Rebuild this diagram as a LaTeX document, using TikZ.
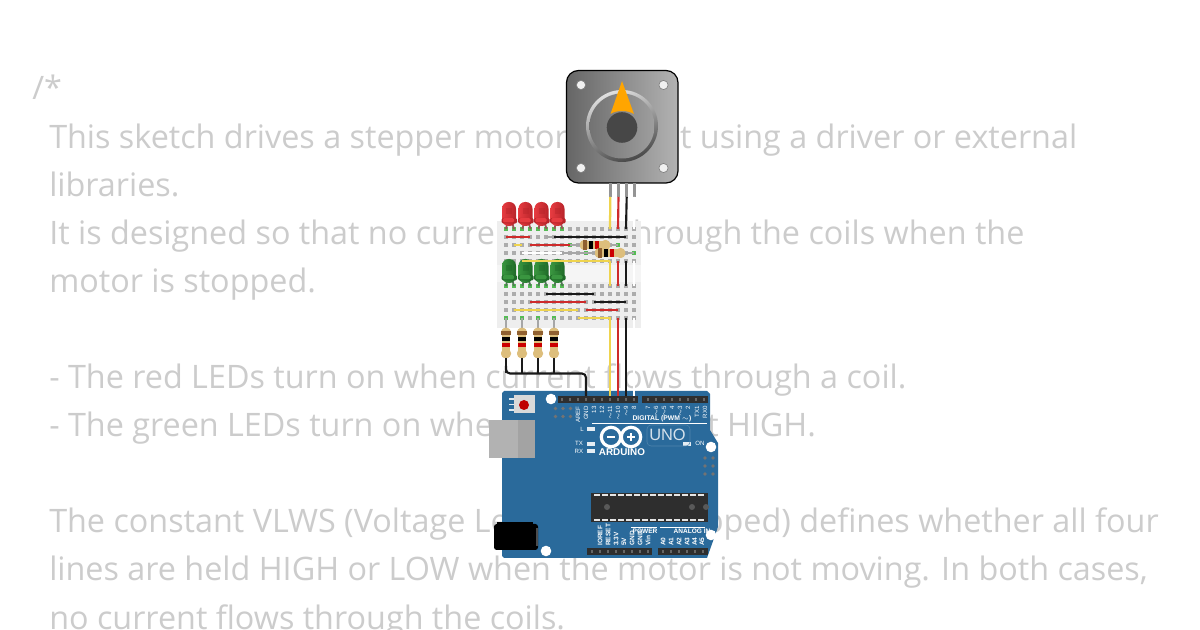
\documentclass[tikz,border=0pt]{standalone}
\usepackage{fontspec}
\setmainfont{Open Sans}
\newfontfamily\lab{Liberation Sans}
\definecolor{bodytext}{HTML}{CCCCCC}
\definecolor{boardblue}{HTML}{2A6A9B}
\definecolor{wyellow}{HTML}{EFD44E}
\definecolor{wred}{HTML}{CE2B2B}
\definecolor{wblack}{HTML}{1A1A1A}
\definecolor{bread}{HTML}{EEEEEE}
\definecolor{tan}{HTML}{DDBE7C}
\definecolor{hdr}{HTML}{2E2E2E}
\definecolor{holegreen}{HTML}{55BB55}
\definecolor{motororange}{HTML}{FFA500}
\definecolor{ledred}{HTML}{E63B40}
\definecolor{ledredd}{HTML}{B8242A}
\definecolor{ledgreen}{HTML}{3A9640}
\definecolor{ledgreend}{HTML}{1F6A28}
\tikzset{
  x=.75pt,y=-.75pt,
  bodyline/.style={anchor=base west,inner sep=0pt,text=bodytext,font=\fontsize{24.25}{24.25}\selectfont},
  wirey/.style={draw=wyellow,line width=1.7pt},
  wirer/.style={draw=wred,line width=1.6pt},
  wirek/.style={draw=wblack,line width=1.6pt,rounded corners=3pt},
  wirew/.style={draw=white,line width=1.3pt},
  lead/.style={draw=gray!70,line width=1pt},
  ty/.style={inner sep=0pt,text=white,font=\lab\fontsize{4.6}{4.6}\selectfont},
  tyb/.style={inner sep=0pt,text=white,font=\lab\bfseries\fontsize{4.9}{4.9}\selectfont},
}
\newcommand{\myled}[3]{% x, y-top, name stem of the colours
  \begin{scope}[shift={(#1,#2)}]
    \draw[gray!55!#3d,line width=1.3pt] (-1.5,20) -- (-3,27) (3,20) -- (5,27);
    \shade[left color=#3,right color=#3d,rounded corners=4.9pt]
      (-7,0) rectangle (7,24);
    \fill[#3d,rounded corners=1pt] (-7.3,16) rectangle (8,21.5);
    \fill[#3,rounded corners=1pt] (-6.2,16) rectangle (5,20.5);
    \fill[#3d,opacity=.45] (-3,6) rectangle (3,12);
  \end{scope}}
\newcommand{\myresbody}{%
  \fill[tan,rounded corners=2pt] (0,-3.8) rectangle (30,3.8);
  \fill[tan,rounded corners=3pt] (0,-5) rectangle (9,5);
  \fill[tan,rounded corners=3pt] (21,-5) rectangle (30,5);
  \fill[brown!75!black] (3,-4.8) rectangle (7,4.8);
  \fill[black] (9,-3.8) rectangle (13,3.8);
  \fill[red!80!black] (15,-3.8) rectangle (19,3.8);}
\newcommand{\myresH}[2]{\begin{scope}[shift={(#1,#2)}]\myresbody\end{scope}}
\newcommand{\myresV}[2]{\begin{scope}[shift={(#1,#2)},x={(0pt,-.75pt)},y={(.75pt,0pt)}]\myresbody\end{scope}}
\begin{document}
\begin{tikzpicture}
\useasboundingbox (0,0) rectangle (1200,630);
\fill[white] (0,0) rectangle (1200,630);
% background text
\node[bodyline] (t0) at (32,100) {/*};
\node[bodyline] (t1) at (49,149) {This sketch drives a stepper motor without using a driver or external};
\node[bodyline] (t2) at (49,197) {libraries.};
\node[bodyline] (t3) at (49,245) {It is designed so that no current flows through the coils when the};
\node[bodyline] (t4) at (49,293) {motor is stopped.};
\node[bodyline] (t5) at (49,389) {- The red LEDs turn on when current flows through a coil.};
\node[bodyline] (t6) at (49,437) {- The green LEDs turn on whe};
\node[bodyline] (t6b) at (707,437) {t HIGH.};
\node[bodyline] (t7) at (49,533) {The constant VLWS (Voltage Level When Stopped) defines whether all four};
\node[bodyline] (t8) at (49,581) {lines are held HIGH or LOW when the motor is not moving. In both cases,};
\node[bodyline] (t9) at (49,629) {no current flows through the coils.};

% breadboard
\fill[bread] (497,221) rectangle (641,328);
\fill[white!96!black] (497,265) rectangle (641,282);
\foreach \r in {229,237,245,253,261,286,294,302,310,318}
  \foreach \c in {506,514,...,634}{
    \coordinate (h\r-\c) at (\c,\r);
    \fill[gray!65] (\c-1.7,\r-1.7) rectangle (\c+1.7,\r+1.7);
  }
\foreach \c in {506,514,...,562}{
  \fill[holegreen] (\c-2.2,229-2.2) rectangle (\c+2.2,229+2.2);
  \fill[holegreen] (\c-2.2,286-2.2) rectangle (\c+2.2,286+2.2);
}
\foreach \c in {506,522,538,554}
  \fill[holegreen] (\c-2.2,318-2.2) rectangle (\c+2.2,318+2.2);
\foreach \c/\r in {618/245,634/253,586/253,570/245}
  \fill[holegreen] (\c-2.2,\r-2.2) rectangle (\c+2.2,\r+2.2);

% Arduino board
\fill[boardblue] (504,391) -- (707,391) -- (710,394) -- (710,430) -- (718,443) -- (718,527) -- (707,558)
  -- (504,558) -- (502,556) -- (502,393) -- cycle;

% motor
\shade[left color=black!60,right color=black!30,draw=black,line width=.9pt,rounded corners=9pt] (566.5,70.5) rectangle (678,183);
\foreach \a/\b in {581/85,663.5/85,581/168,663.5/168}
  \draw[fill=black!6,draw=black!50,line width=.5pt] (\a,\b) circle (4.6);
\shade[left color=black!12,right color=black!72,shading angle=20] (622,126) circle (36);
\shade[left color=black!55,right color=black!38] (622,126) circle (32.5);
\fill[motororange] (622,81) -- (634,114) .. controls (628,110) and (616,110) .. (610.5,114) -- cycle;
\fill[black!72] (622,127.5) circle (15.3);
\foreach \i/\a in {1/610.3,2/618.5,3/626.7,4/634.3}{
  \fill[black!42] (\a-1.6,183) rectangle (\a+1.6,197);
  \coordinate (mp\i) at (\a,197);
}

% board pin coordinates
\coordinate (d11) at (610,401); \coordinate (d10) at (618,401);
\coordinate (d9) at (626,401); \coordinate (d8) at (634,401);
\coordinate (dgnd) at (586,401);

% wires from the motor
\draw[wirew] (mp4) -- (h229-634) (h261-634) -- (h286-634) (h318-634) -- (d8);
\draw[wirew] (h253-522) -- (h253-562);
\draw[wirey] (mp1) -- (610,229);
\draw[wirer] (mp2) -- (618,229);
\draw[wirek] (mp3) -- (626,229);
\draw[wirey] (610,261) -- (610,286);
\draw[wirer] (618,261) -- (618,286);
\draw[wirek] (626,261) -- (626,286);
\draw[wirey] (h318-578) -- (610,318) -- (d11);
\draw[wirer] (618,318) -- (d10);
\draw[wirek] (626,318) -- (d9);
% jumpers on the breadboard
\draw[wirer] (h237-506) -- (h237-530);
\draw[lead] (h237-546) -- (h237-554);
\draw[wirek] (h237-554) -- (h237-626);
\draw[wirey] (h245-514) -- (h245-522);
\draw[wirer] (h245-530) -- (h245-570);
\draw[lead] (h245-570) -- (h245-618);
\draw[lead] (h253-562) -- (h253-634);
\draw[wirek] (h294-546) -- (h294-594);
\draw[wirer] (h302-530) -- (h302-586);
\draw[wirek] (h302-594) -- (h302-626);
\draw[wirey] (h310-514) -- (h310-578);
\draw[wirer] (h310-586) -- (h310-618);
\myresH{580}{245}
\myresH{595}{253}

% LEDs
\foreach \a in {509,525.5,541.5,557.5}{
  \myled{\a}{202}{ledred}
}
\foreach \a in {509,525.5,541.5,557.5}{
  \myled{\a}{259}{ledgreen}
}
\draw[wirey] (h261-522) -- (610,261);

% resistors to ground
\foreach \c in {506,522,538,554}{
  \draw[lead] (h318-\c) -- (\c,328);
  \myresV{\c}{328}
  \draw[wirek] (\c,358) -- (\c,373.5);
}
\draw[wirek] (506,366) -- (506,373.5) -- (586,373.5) -- (dgnd);

% Arduino components
\fill[gray!30] (514,395) rectangle (535,413);
\foreach \a in {399,404.5,410}\fill[white!85!boardblue] (509,\a-.8) rectangle (514,\a+.8);
\fill[red!75!black] (524,405) circle (5);
\foreach \a/\b in {551/399,711/447,546/551,711/535}\fill[white] (\a,\b) circle (5.3);
\fill[hdr] (558,396) rectangle (638,403.5);
\fill[hdr] (642,396) rectangle (708,403.5);
\foreach \a in {562,570,...,634}\fill[black!60] (\a-1.3,398.3) rectangle (\a+1.3,401);
\foreach \a in {648,656,...,704}\fill[black!60] (\a-1.3,398.3) rectangle (\a+1.3,401);
\fill[hdr] (587,548) rectangle (652,555.5);
\fill[hdr] (658,548) rectangle (708,555.5);
\foreach \a in {592,600,...,648}\fill[black!60] (\a-1.3,550.3) rectangle (\a+1.3,553);
\foreach \a in {663,671,...,703}\fill[black!60] (\a-1.3,550.3) rectangle (\a+1.3,553);
\foreach \a in {555.5,563,570.5}\foreach \b in {408.5,416.5}
  \fill[black!55] (\a,\b) circle (1.8);
\foreach \a in {705,713}\foreach \b in {458,466,474}
  \fill[black!55] (\a,\b) circle (1.9);
\fill[black!30] (489,420) rectangle (535,458);
\fill[black!36] (518,420) rectangle (535,458);
\fill[black] (497,522) rectangle (533,550);
\fill[black,rounded corners=2pt] (494,524) rectangle (538,550);
\fill[black!70] (536,528) rectangle (538,546);
% chip
\fill[black!82] (591,493) rectangle (708,522);
\foreach \a in {597,605,...,705}{
  \fill[white!90!black] (\a-2.6,494) rectangle (\a+2.6,495.8);
  \fill[white!90!black] (\a-2.6,519.2) rectangle (\a+2.6,521);
}
\foreach \a in {607,692,706}\fill[black!65] (\a,507) circle (3);
% LEDs and markings
\foreach \a/\b in {591/429,591/444,591/451,687/444}
  \fill[white!88!boardblue] (\a-4,\b-2) rectangle (\a+4,\b+2);
\draw[white,line width=.6pt] (592,423) -- (707,423);
\draw[white,line width=.5pt] (660,527) -- (705,527) (631,527) -- (657,527);
% logo
\draw[white,line width=2.4pt] (611,437) circle (9.7);
\draw[white,line width=2.4pt] (631,437) circle (9.7);
\fill[white] (607,436) rectangle (615,438);
\fill[white] (627,436) rectangle (635,438);
\fill[white] (630,433) rectangle (632,441);
\node[inner sep=0pt,text=white,font=\lab\bfseries\fontsize{7.4}{7.4}\selectfont] (ardu) at (622,452) {ARDUINO};
\draw[white!18!boardblue,line width=.4pt,rounded corners=3pt] (647,425) rectangle (690,446);
\node[inner sep=0pt,text=white!80!boardblue,font=\lab\fontsize{12.3}{12.3}\selectfont] (uno) at (667.5,435) {UNO};
\node[tyb,font=\lab\bfseries\fontsize{5.1}{5.1}\selectfont] (dig) at (662,418.5) {DIGITAL (PWM ${\sim}$)};
\foreach \n/\a/\s in {aref/578/AREF,gnd/586/GND,p13/594/13,p12/602/12,p11/610/${\sim}$11,p10/618/${\sim}$10,p9/626/${\sim}$9,p8/634/8,p7/648/7,p6/656/${\sim}$6,p5/664/${\sim}$5,p4/672/4,p3/680/${\sim}$3,p2/688/2,p1/697/TX1,p0/705/RX0}
  \node[ty,rotate=90,anchor=east] (\n) at (\a,406) {\s};
\node[ty] (lblL) at (582,429) {L};
\node[ty] (lblTX) at (579,443.5) {TX};
\node[ty] (lblRX) at (579,451) {RX};
\node[ty] (lblON) at (700,443.5) {ON};
\foreach \n/\a/\s in {io/600/IOREF,re/608/RESET,v3/616/3.3V,v5/624/5V,g1/632/GND,g2/640/GND,vi/648/Vin,a0/663/A0,a1/671/A1,a2/679/A2,a3/687/A3,a4/694.5/A4,a5/702/A5}
  \node[tyb,rotate=90,anchor=west] (\n) at (\a,546) {\s};
\node[tyb] (pow) at (645,531) {POWER};
\node[tyb] (ana) at (692,531) {ANALOG IN};
\end{tikzpicture}
\end{document}
